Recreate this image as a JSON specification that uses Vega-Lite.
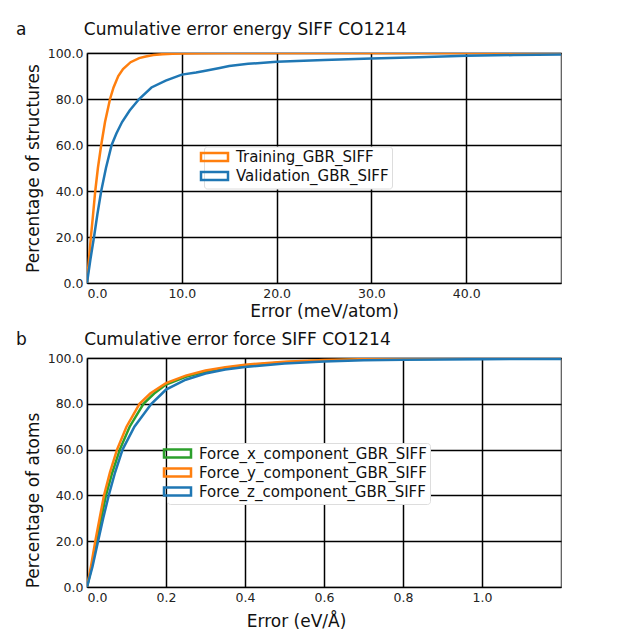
{
  "$schema": "https://vega.github.io/schema/vega-lite/v6.json",
  "background": "white",
  "padding": {"left": 15, "top": 19, "right": 4, "bottom": 4},
  "bounds": "flush",
  "spacing": 75,
  "config": {
    "font": "DejaVu Sans",
    "view": {"stroke": "#555", "strokeWidth": 1.2},
    "axis": {
      "grid": true, "gridColor": "black", "gridWidth": 1.5, "gridOpacity": 1,
      "domain": false, "ticks": false,
      "labelFontSize": 12.5, "labelColor": "#222", "labelPadding": 4,
      "titleFontSize": 17, "titleFontWeight": "normal", "titleColor": "#111"
    },
    "title": {"fontSize": 17, "fontWeight": "normal", "anchor": "start", "color": "#111", "frame": "group"},
    "legend": {
      "orient": "none", "title": null,
      "labelFontSize": 15, "labelColor": "#111", "labelLimit": 600, "labelOffset": 14,
      "symbolType": "M-2.7,-0.8H2.7V0.8H-2.7Z", "symbolSize": 100, "symbolStrokeWidth": 2.5,
      "fillColor": "white", "strokeColor": "#ddd", "cornerRadius": 3, "padding": 3
    }
  },
  "datasets": {
    "energy": [
      {"set": "Training_GBR_SIFF", "error": 0, "pct": 0},
      {"set": "Training_GBR_SIFF", "error": 0.2, "pct": 10},
      {"set": "Training_GBR_SIFF", "error": 0.41, "pct": 20},
      {"set": "Training_GBR_SIFF", "error": 0.6, "pct": 28},
      {"set": "Training_GBR_SIFF", "error": 0.87, "pct": 40},
      {"set": "Training_GBR_SIFF", "error": 1.15, "pct": 50},
      {"set": "Training_GBR_SIFF", "error": 1.5, "pct": 60},
      {"set": "Training_GBR_SIFF", "error": 1.9, "pct": 70},
      {"set": "Training_GBR_SIFF", "error": 2.43, "pct": 80},
      {"set": "Training_GBR_SIFF", "error": 2.8, "pct": 85},
      {"set": "Training_GBR_SIFF", "error": 3.3, "pct": 90},
      {"set": "Training_GBR_SIFF", "error": 3.8, "pct": 93},
      {"set": "Training_GBR_SIFF", "error": 4.6, "pct": 96},
      {"set": "Training_GBR_SIFF", "error": 5.5, "pct": 97.8},
      {"set": "Training_GBR_SIFF", "error": 6.2, "pct": 98.5},
      {"set": "Training_GBR_SIFF", "error": 7, "pct": 99.1},
      {"set": "Training_GBR_SIFF", "error": 8, "pct": 99.5},
      {"set": "Training_GBR_SIFF", "error": 9, "pct": 99.7},
      {"set": "Training_GBR_SIFF", "error": 10, "pct": 99.8},
      {"set": "Training_GBR_SIFF", "error": 12, "pct": 99.9},
      {"set": "Training_GBR_SIFF", "error": 15, "pct": 100},
      {"set": "Training_GBR_SIFF", "error": 50, "pct": 100},
      {"set": "Validation_GBR_SIFF", "error": 0, "pct": 0},
      {"set": "Validation_GBR_SIFF", "error": 0.35, "pct": 10},
      {"set": "Validation_GBR_SIFF", "error": 0.74, "pct": 20},
      {"set": "Validation_GBR_SIFF", "error": 1.1, "pct": 30},
      {"set": "Validation_GBR_SIFF", "error": 1.5, "pct": 40},
      {"set": "Validation_GBR_SIFF", "error": 2.0, "pct": 50},
      {"set": "Validation_GBR_SIFF", "error": 2.6, "pct": 60},
      {"set": "Validation_GBR_SIFF", "error": 3.1, "pct": 65},
      {"set": "Validation_GBR_SIFF", "error": 3.7, "pct": 70},
      {"set": "Validation_GBR_SIFF", "error": 4.5, "pct": 75},
      {"set": "Validation_GBR_SIFF", "error": 5.5, "pct": 80},
      {"set": "Validation_GBR_SIFF", "error": 6.8, "pct": 85},
      {"set": "Validation_GBR_SIFF", "error": 8.3, "pct": 88},
      {"set": "Validation_GBR_SIFF", "error": 10, "pct": 90.6},
      {"set": "Validation_GBR_SIFF", "error": 11.5, "pct": 91.5},
      {"set": "Validation_GBR_SIFF", "error": 12.5, "pct": 92.3},
      {"set": "Validation_GBR_SIFF", "error": 14, "pct": 93.5},
      {"set": "Validation_GBR_SIFF", "error": 15, "pct": 94.3},
      {"set": "Validation_GBR_SIFF", "error": 17, "pct": 95.3},
      {"set": "Validation_GBR_SIFF", "error": 20, "pct": 96.2},
      {"set": "Validation_GBR_SIFF", "error": 25, "pct": 97},
      {"set": "Validation_GBR_SIFF", "error": 30, "pct": 97.6},
      {"set": "Validation_GBR_SIFF", "error": 35, "pct": 98.1},
      {"set": "Validation_GBR_SIFF", "error": 40, "pct": 98.8},
      {"set": "Validation_GBR_SIFF", "error": 45, "pct": 99.1},
      {"set": "Validation_GBR_SIFF", "error": 50, "pct": 99.4}
    ],
    "force": [
      {"set": "Force_x_component_GBR_SIFF", "error": 0, "pct": 0},
      {"set": "Force_x_component_GBR_SIFF", "error": 0.012, "pct": 9},
      {"set": "Force_x_component_GBR_SIFF", "error": 0.024, "pct": 20},
      {"set": "Force_x_component_GBR_SIFF", "error": 0.036, "pct": 30},
      {"set": "Force_x_component_GBR_SIFF", "error": 0.048, "pct": 40},
      {"set": "Force_x_component_GBR_SIFF", "error": 0.064, "pct": 50},
      {"set": "Force_x_component_GBR_SIFF", "error": 0.083, "pct": 60},
      {"set": "Force_x_component_GBR_SIFF", "error": 0.108, "pct": 70},
      {"set": "Force_x_component_GBR_SIFF", "error": 0.143, "pct": 80},
      {"set": "Force_x_component_GBR_SIFF", "error": 0.17, "pct": 84.5},
      {"set": "Force_x_component_GBR_SIFF", "error": 0.2, "pct": 88.4},
      {"set": "Force_x_component_GBR_SIFF", "error": 0.25, "pct": 91.8},
      {"set": "Force_x_component_GBR_SIFF", "error": 0.3, "pct": 94},
      {"set": "Force_x_component_GBR_SIFF", "error": 0.35, "pct": 95.6},
      {"set": "Force_x_component_GBR_SIFF", "error": 0.4, "pct": 96.7},
      {"set": "Force_x_component_GBR_SIFF", "error": 0.5, "pct": 98.1},
      {"set": "Force_x_component_GBR_SIFF", "error": 0.6, "pct": 98.9},
      {"set": "Force_x_component_GBR_SIFF", "error": 0.7, "pct": 99.3},
      {"set": "Force_x_component_GBR_SIFF", "error": 0.8, "pct": 99.6},
      {"set": "Force_x_component_GBR_SIFF", "error": 1.0, "pct": 99.8},
      {"set": "Force_x_component_GBR_SIFF", "error": 1.2, "pct": 99.85},
      {"set": "Force_y_component_GBR_SIFF", "error": 0, "pct": 0},
      {"set": "Force_y_component_GBR_SIFF", "error": 0.01, "pct": 9},
      {"set": "Force_y_component_GBR_SIFF", "error": 0.021, "pct": 20},
      {"set": "Force_y_component_GBR_SIFF", "error": 0.032, "pct": 30},
      {"set": "Force_y_component_GBR_SIFF", "error": 0.043, "pct": 40},
      {"set": "Force_y_component_GBR_SIFF", "error": 0.058, "pct": 50},
      {"set": "Force_y_component_GBR_SIFF", "error": 0.076, "pct": 60},
      {"set": "Force_y_component_GBR_SIFF", "error": 0.1, "pct": 70},
      {"set": "Force_y_component_GBR_SIFF", "error": 0.133, "pct": 80},
      {"set": "Force_y_component_GBR_SIFF", "error": 0.16, "pct": 84.5},
      {"set": "Force_y_component_GBR_SIFF", "error": 0.2, "pct": 89},
      {"set": "Force_y_component_GBR_SIFF", "error": 0.25, "pct": 92.3},
      {"set": "Force_y_component_GBR_SIFF", "error": 0.3, "pct": 94.5},
      {"set": "Force_y_component_GBR_SIFF", "error": 0.35, "pct": 96},
      {"set": "Force_y_component_GBR_SIFF", "error": 0.4, "pct": 97.1},
      {"set": "Force_y_component_GBR_SIFF", "error": 0.5, "pct": 98.4},
      {"set": "Force_y_component_GBR_SIFF", "error": 0.6, "pct": 99.1},
      {"set": "Force_y_component_GBR_SIFF", "error": 0.7, "pct": 99.5},
      {"set": "Force_y_component_GBR_SIFF", "error": 0.8, "pct": 99.7},
      {"set": "Force_y_component_GBR_SIFF", "error": 1.0, "pct": 99.85},
      {"set": "Force_y_component_GBR_SIFF", "error": 1.2, "pct": 99.9},
      {"set": "Force_z_component_GBR_SIFF", "error": 0, "pct": 0},
      {"set": "Force_z_component_GBR_SIFF", "error": 0.014, "pct": 9},
      {"set": "Force_z_component_GBR_SIFF", "error": 0.028, "pct": 20},
      {"set": "Force_z_component_GBR_SIFF", "error": 0.041, "pct": 30},
      {"set": "Force_z_component_GBR_SIFF", "error": 0.055, "pct": 40},
      {"set": "Force_z_component_GBR_SIFF", "error": 0.071, "pct": 50},
      {"set": "Force_z_component_GBR_SIFF", "error": 0.09, "pct": 60},
      {"set": "Force_z_component_GBR_SIFF", "error": 0.12, "pct": 70},
      {"set": "Force_z_component_GBR_SIFF", "error": 0.163, "pct": 80},
      {"set": "Force_z_component_GBR_SIFF", "error": 0.19, "pct": 84.5},
      {"set": "Force_z_component_GBR_SIFF", "error": 0.2, "pct": 86.2},
      {"set": "Force_z_component_GBR_SIFF", "error": 0.25, "pct": 90.5},
      {"set": "Force_z_component_GBR_SIFF", "error": 0.3, "pct": 93.2},
      {"set": "Force_z_component_GBR_SIFF", "error": 0.35, "pct": 95},
      {"set": "Force_z_component_GBR_SIFF", "error": 0.4, "pct": 96.1},
      {"set": "Force_z_component_GBR_SIFF", "error": 0.5, "pct": 97.6},
      {"set": "Force_z_component_GBR_SIFF", "error": 0.6, "pct": 98.5},
      {"set": "Force_z_component_GBR_SIFF", "error": 0.7, "pct": 99},
      {"set": "Force_z_component_GBR_SIFF", "error": 0.8, "pct": 99.2},
      {"set": "Force_z_component_GBR_SIFF", "error": 1.0, "pct": 99.5},
      {"set": "Force_z_component_GBR_SIFF", "error": 1.2, "pct": 99.6}
    ]
  },
  "vconcat": [
    {
      "width": 474,
      "height": 230,
      "title": {"text": "a\u00a0\u00a0\u00a0\u00a0\u00a0\u00a0\u00a0\u00a0\u00a0\u00a0\u2009Cumulative error energy SIFF CO1214", "dx": -71, "offset": 8.5},
      "data": {"name": "energy"},
      "mark": {"type": "line", "strokeWidth": 2.5, "clip": true},
      "encoding": {
        "x": {
          "field": "error", "type": "quantitative",
          "scale": {"domain": [0, 50], "nice": false, "zero": false},
          "axis": {"values": [0, 10, 20, 30, 40], "format": ".1f", "title": "Error (meV/atom)", "titlePadding": 4}
        },
        "y": {
          "field": "pct", "type": "quantitative",
          "scale": {"domain": [0, 100], "nice": false},
          "axis": {"values": [0, 20, 40, 60, 80, 100], "format": ".1f", "title": "Percentage of structures", "titlePadding": 5}
        },
        "color": {
          "field": "set", "type": "nominal",
          "scale": {"domain": ["Training_GBR_SIFF", "Validation_GBR_SIFF"], "range": ["#ff7f0e", "#1f77b4"]},
          "legend": {"legendX": 117, "legendY": 93.5, "rowPadding": 0}
        }
      }
    },
    {
      "width": 474,
      "height": 229,
      "title": {"text": "b\u00a0\u00a0\u00a0\u00a0\u00a0\u00a0\u00a0\u00a0\u00a0\u00a0\u2009Cumulative error force SIFF CO1214", "dx": -71, "offset": 3},
      "data": {"name": "force"},
      "mark": {"type": "line", "strokeWidth": 2.5, "clip": true},
      "encoding": {
        "x": {
          "field": "error", "type": "quantitative",
          "scale": {"domain": [0, 1.2], "nice": false, "zero": false},
          "axis": {"values": [0, 0.2, 0.4, 0.6, 0.8, 1.0], "format": ".1f", "title": "Error (eV/Å)", "titlePadding": 10, "titleX": 209}
        },
        "y": {
          "field": "pct", "type": "quantitative",
          "scale": {"domain": [0, 100], "nice": false},
          "axis": {"values": [0, 20, 40, 60, 80, 100], "format": ".1f", "title": "Percentage of atoms", "titlePadding": 5, "titleY": 142}
        },
        "color": {
          "field": "set", "type": "nominal",
          "scale": {"domain": ["Force_x_component_GBR_SIFF", "Force_y_component_GBR_SIFF", "Force_z_component_GBR_SIFF"], "range": ["#2ca02c", "#ff7f0e", "#1f77b4"]},
          "legend": {"legendX": 80, "legendY": 85, "rowPadding": 0}
        }
      }
    }
  ],
  "resolve": {"scale": {"color": "independent", "x": "independent", "y": "independent"}, "legend": {"color": "independent"}}
}
